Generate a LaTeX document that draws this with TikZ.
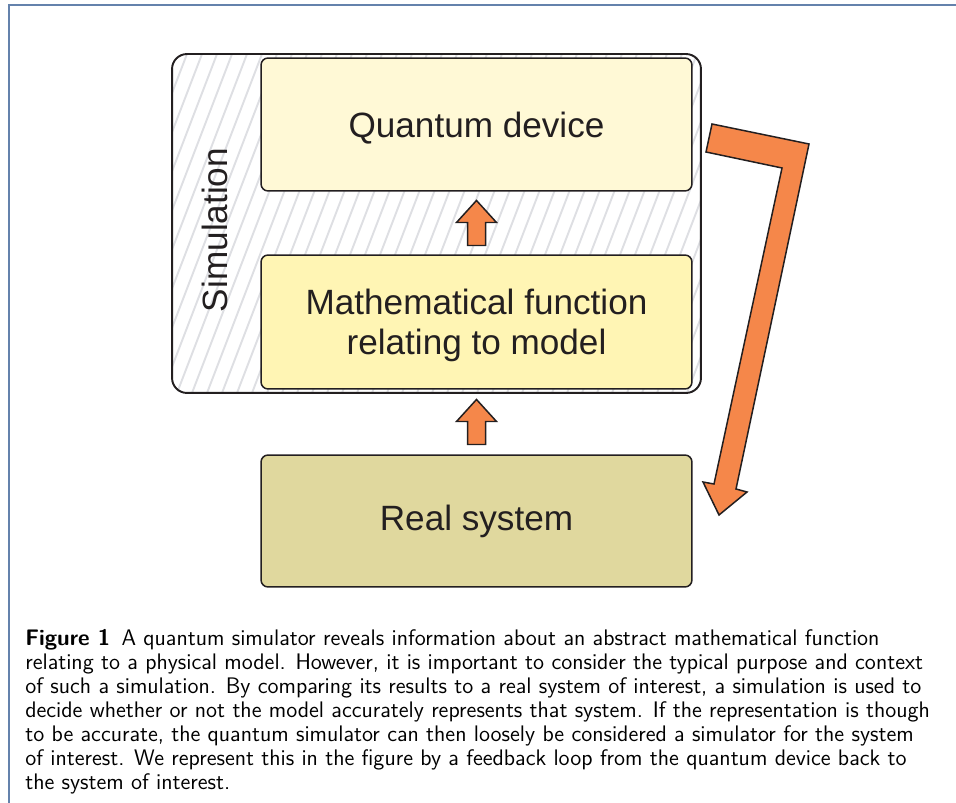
\documentclass[tikz,border=0pt]{standalone}
\usepackage{fontspec}
\newfontfamily\boxfont{Liberation Sans}
\usetikzlibrary{backgrounds,calc}
\definecolor{framecol}{RGB}{100,130,172}
\definecolor{linecol}{RGB}{35,31,32}
\definecolor{hatchcol}{RGB}{222,223,227}
\definecolor{qdevcol}{RGB}{255,249,214}
\definecolor{mathcol}{RGB}{255,245,180}
\definecolor{realcol}{RGB}{224,216,158}
\definecolor{arrowcol}{RGB}{245,135,74}
\begin{document}
\begin{tikzpicture}[x=0.02cm, y=-0.02cm,
    box/.style={draw=linecol, line width=0.85pt, rounded corners=4pt, minimum width=8.62cm, text=linecol, align=center, font=\boxfont\fontsize{20}{22.7}\selectfont},
    simbox/.style={draw=linecol, line width=1.1pt, rounded corners=8.5pt, minimum width=10.58cm, minimum height=6.78cm},
    hatch/.style={draw=hatchcol, line width=1.1pt},
    orangearrow/.style={fill=arrowcol, draw=linecol, line width=0.85pt, line join=miter},
    uparrow/.pic={\draw[orangearrow] (0,-22.5) -- (20,-0.5) -- (9,-0.5) -- (9,22.5) -- (-9,22.5) -- (-9,-0.5) -- (-20,-0.5) -- cycle;}]
    \useasboundingbox (0,0) rectangle (956,803);
    % page frame
    \draw[framecol, line width=1.1pt] (9,803) -- (9,5) -- (956,5);
    % Simulation block
    \node[simbox] (sim) at (436.5,223.5) {};
    \begin{scope}[on background layer]
        \clip[rounded corners=8.5pt] (sim.south west) rectangle (sim.north east);
        \foreach \i in {0,...,44}
            \draw[hatch] (42+15*\i,393) -- ++(130,-339);
    \end{scope}
    \node[rotate=90, text=linecol, font=\boxfont\fontsize{20}{22.7}\selectfont] (simlabel) at (215,230) {Simulation};
    % the three boxes
    \node[box, fill=qdevcol, minimum height=2.66cm, text depth=0pt] (qdev) at (476.5,124.5) {Quantum device};
    \node[box, fill=mathcol, minimum height=2.68cm, text depth=0pt] (math) at (476.5,322) {Mathematical function\\relating to model};
    \node[box, fill=realcol, minimum height=2.64cm] (real) at (476.5,521) {Real system};
    % arrows
    \pic at ($(qdev.south)!0.5!(math.north)$) {uparrow};
    \pic at ($(math.south)!0.5!(real.north)$) {uparrow};
    % feedback loop
    \draw[orangearrow] (712,124) -- (809,144) -- (736,489) -- (747,492) -- (719,515) -- (703,482) -- (714,484) -- (782,168) -- (706,152) -- cycle;
    % caption
    \node[anchor=north west, align=left, inner sep=0pt, text=black, font=\sffamily\fontsize{12.8}{13.65}\selectfont] (caption) at (25,629)
        {\textbf{Figure 1}\enspace A quantum simulator reveals information about an abstract mathematical function\\
        relating to a physical model. However, it is important to consider the typical purpose and context\\
        of such a simulation. By comparing its results to a real system of interest, a simulation is used to\\
        decide whether or not the model accurately represents that system. If the representation is though\\
        to be accurate, the quantum simulator can then loosely be considered a simulator for the system\\
        of interest. We represent this in the figure by a feedback loop from the quantum device back to\\
        the system of interest.};
\end{tikzpicture}
\end{document}
